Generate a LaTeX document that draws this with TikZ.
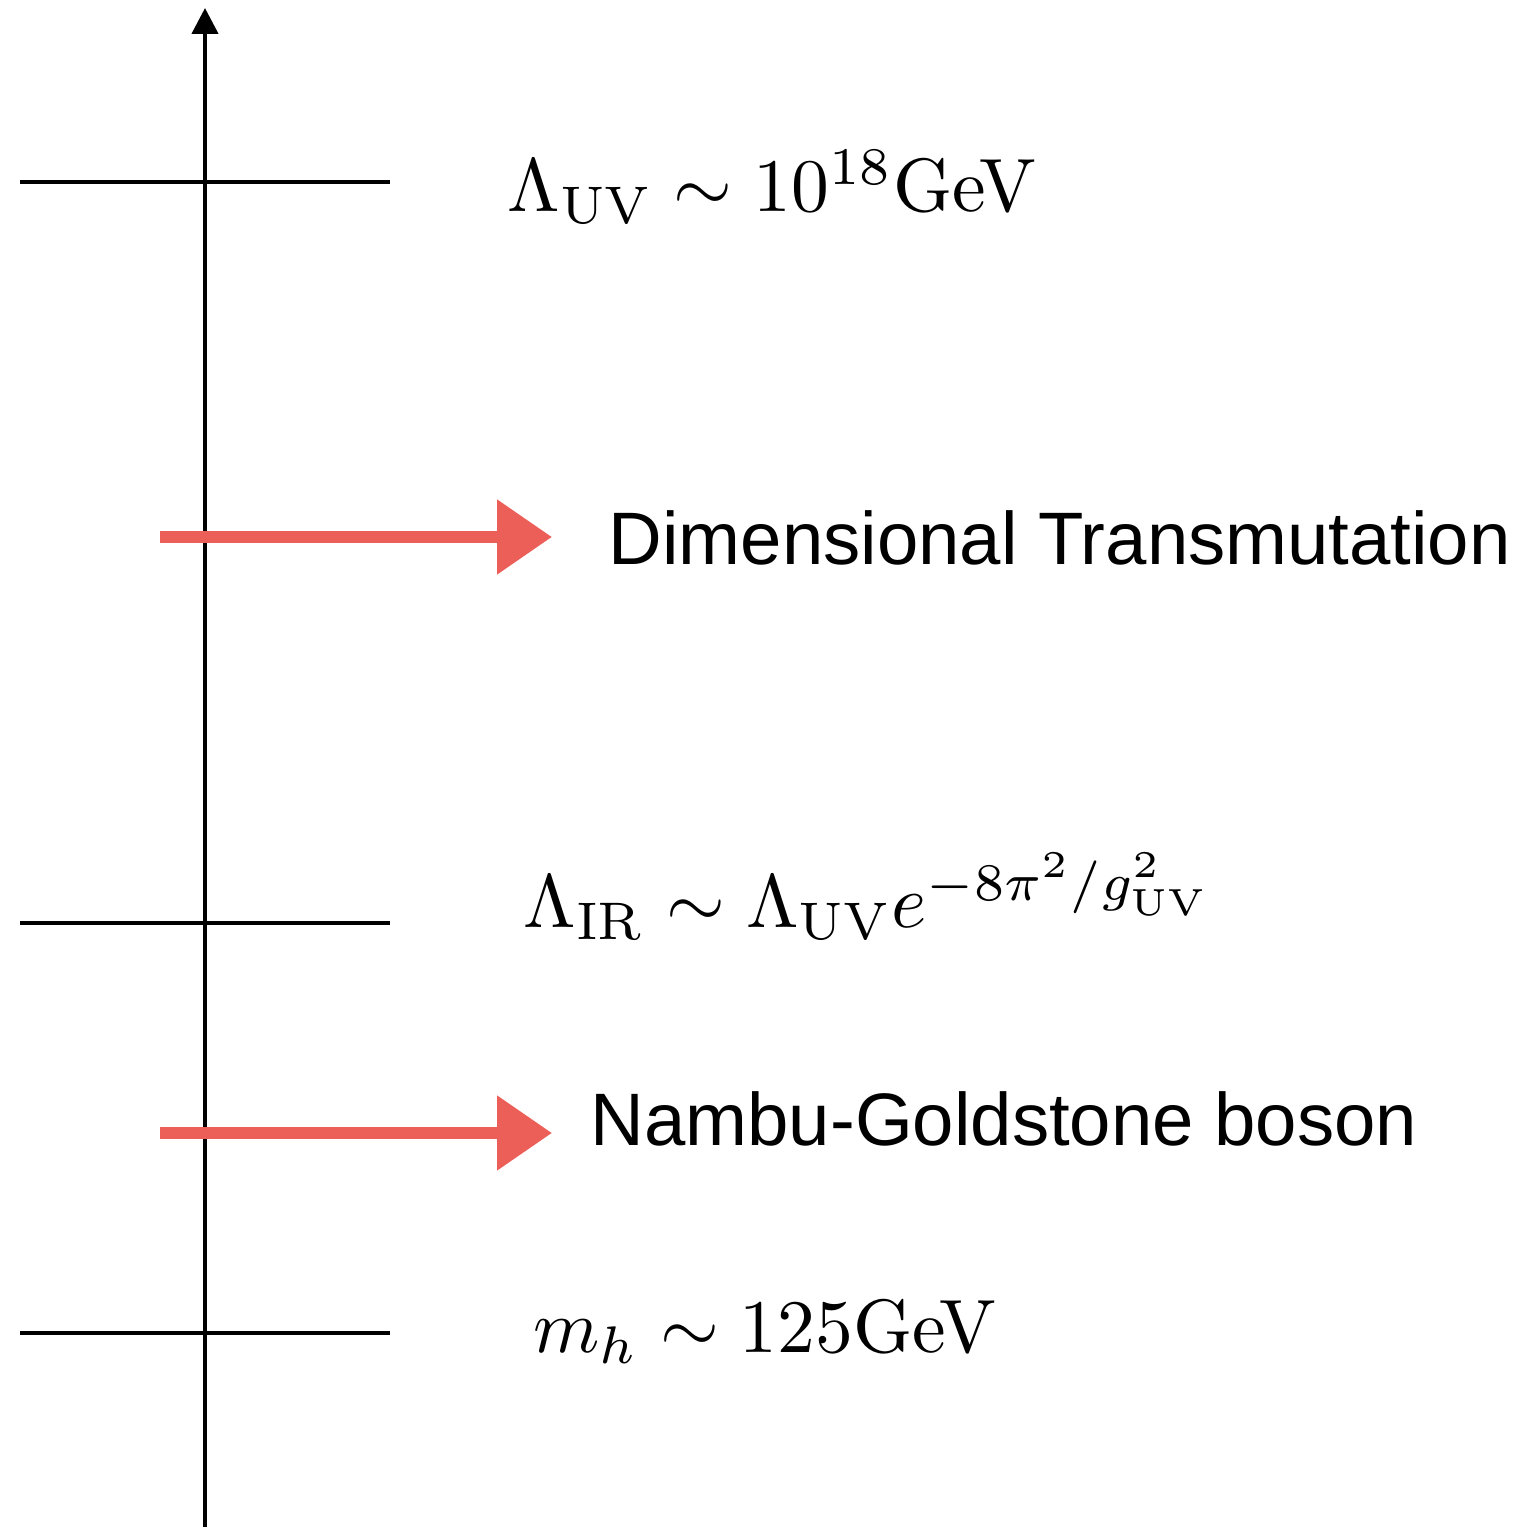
\documentclass[tikz,border=0pt]{standalone}
\usepackage{fontspec}
\newfontfamily\helv{Liberation Sans}
\usetikzlibrary{arrows.meta}
\definecolor{arrowred}{RGB}{236,94,88}
\begin{document}
\begin{tikzpicture}[
	scale line/.style={line width=1.2pt},
	red arrow/.style={draw=arrowred, line width=3.4pt, -{Triangle[length=0.55cm, width=0.72cm]}},
	math label/.style={anchor=base west, inner sep=0pt, scale=2.15, transform shape},
	text label/.style={anchor=base west, inner sep=0pt, font=\fontsize{21.15}{25}\helv}]
	\useasboundingbox (0, 0) rectangle (15.31, 15.27);
	% energy axis
	\coordinate (bottom) at (2.05, 0);
	\coordinate (top) at (2.05, 15.19);
	\draw[scale line, -{Triangle[length=0.26cm, width=0.26cm]}] (bottom) -- (top);
	% scales
	\coordinate (UVl) at (0.20, 13.45);
	\coordinate (UVr) at (3.90, 13.45);
	\coordinate (IRl) at (0.20, 6.04);
	\coordinate (IRr) at (3.90, 6.04);
	\coordinate (Hl) at (0.20, 1.94);
	\coordinate (Hr) at (3.90, 1.94);
	\draw[scale line] (UVl) -- (UVr);
	\draw[scale line] (IRl) -- (IRr);
	\draw[scale line] (Hl) -- (Hr);
	\node[math label] (UV) at (5.06, 13.15) {$\Lambda_{\rm UV}\sim 10^{18}$GeV};
	\node[math label] (IR) at (5.22, 5.99) {$\Lambda_{\rm IR}\sim \Lambda_{\rm UV}e^{-8\pi^2/g^2_{\rm UV}}$};
	\node[math label] (H) at (5.32, 1.75) {$m_h\sim 125$GeV};
	% red arrows
	\coordinate (DTs) at (1.60, 9.90);
	\coordinate (DTe) at (5.52, 9.90);
	\coordinate (NGs) at (1.60, 3.94);
	\coordinate (NGe) at (5.52, 3.94);
	\draw[red arrow] (DTs) -- (DTe);
	\draw[red arrow] (NGs) -- (NGe);
	\node[text label] (DT) at (6.08, 9.62) {Dimensional Transmutation};
	\node[text label] (NG) at (5.90, 3.82) {Nambu-Goldstone boson};
\end{tikzpicture}
\end{document}
